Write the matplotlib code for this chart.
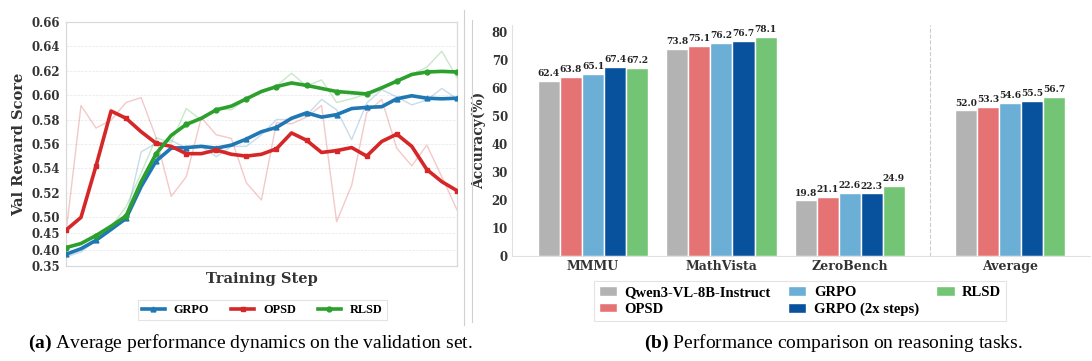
import numpy as np
import matplotlib
matplotlib.use("Agg")
import matplotlib.pyplot as plt
from matplotlib.lines import Line2D

plt.rcParams["mathtext.fontset"] = "custom"
plt.rcParams["mathtext.rm"] = "Liberation Serif"
plt.rcParams["mathtext.bf"] = "Liberation Serif:bold"

# ---- data: (a) validation reward curves ----
steps = list(range(27))
grpo_raw = [0.378, 0.393, 0.429, 0.460, 0.4975, 0.5535, 0.5605, 0.563, 0.5565, 0.558, 0.5495,
            0.558, 0.558, 0.5675, 0.580, 0.580, 0.5835, 0.5965, 0.588, 0.5635, 0.5935, 0.6045,
            0.5985, 0.592, 0.596, 0.6055, 0.597]
grpo_smooth = [0.386, 0.403, 0.429, 0.462, 0.496, 0.525, 0.546, 0.5565, 0.557, 0.558, 0.5565,
               0.559, 0.564, 0.570, 0.5735, 0.581, 0.5855, 0.582, 0.584, 0.589, 0.590, 0.5905,
               0.597, 0.5995, 0.5975, 0.597, 0.5975]
opsd_raw = [0.450, 0.5915, 0.573, 0.5795, 0.594, 0.598, 0.565, 0.517, 0.533, 0.5815, 0.5675,
            0.5645, 0.528, 0.514, 0.5775, 0.5765, 0.582, 0.5915, 0.4856, 0.526, 0.5855, 0.5965,
            0.5565, 0.542, 0.559, 0.533, 0.506]
opsd_smooth = [0.460, 0.499, 0.542, 0.587, 0.581, 0.570, 0.5605, 0.558, 0.552, 0.552, 0.555,
               0.5515, 0.550, 0.5515, 0.556, 0.569, 0.563, 0.553, 0.5545, 0.557, 0.550, 0.562,
               0.568, 0.558, 0.539, 0.529, 0.5217]
rlsd_raw = [0.403, 0.419, 0.444, 0.470, 0.5085, 0.536, 0.565, 0.561, 0.589, 0.5795, 0.589,
            0.588, 0.597, 0.604, 0.6075, 0.618, 0.6075, 0.6125, 0.594, 0.597, 0.601, 0.606,
            0.612, 0.617, 0.623, 0.636, 0.6145]
rlsd_smooth = [0.4065, 0.419, 0.4435, 0.472, 0.501, 0.529, 0.552, 0.567, 0.576, 0.581, 0.588,
               0.591, 0.597, 0.603, 0.607, 0.610, 0.608, 0.6055, 0.603, 0.602, 0.601, 0.606,
               0.6115, 0.617, 0.619, 0.6195, 0.619]
reward_ticks = [0.35, 0.40, 0.45, 0.50, 0.52, 0.54, 0.56, 0.58, 0.60, 0.62, 0.64, 0.66]

# ---- data: (b) benchmark accuracy ----
benchmarks = ["MMMU", "MathVista", "ZeroBench", "Average"]
methods = ["Qwen3-VL-8B-Instruct", "OPSD", "GRPO", "GRPO (2x steps)", "RLSD"]
acc_base = [62.4, 73.8, 19.8, 52.0]
acc_opsd = [63.8, 75.1, 21.1, 53.3]
acc_grpo = [65.1, 76.2, 22.6, 54.6]
acc_grpo2x = [67.4, 76.7, 22.3, 55.5]
acc_rlsd = [67.2, 78.1, 24.9, 56.7]

SERIF = ["DejaVu Serif"]
TIMES = ["Liberation Serif"]

fig = plt.figure(figsize=(10.92, 3.61), dpi=100)

# ================= (a) =================
ax1 = fig.add_axes([0.0604, 0.263, 0.358, 0.676])

K = 0.268  # compression below 0.5


def fwd(v):
    v = np.asarray(v, dtype=float)
    return np.where(v >= 0.5, v, 0.5 - (0.5 - v) * K)


def inv(u):
    u = np.asarray(u, dtype=float)
    return np.where(u >= 0.5, u, 0.5 - (0.5 - u) / K)


ax1.set_yscale("function", functions=(fwd, inv))

curves = [
    ("GRPO", grpo_raw, grpo_smooth, "#1f77b4", "^"),
    ("OPSD", opsd_raw, opsd_smooth, "#d62728", "s"),
    ("RLSD", rlsd_raw, rlsd_smooth, "#2ca02c", "o"),
]
for name, raw, sm, c, m in curves:
    ax1.plot(steps, raw, color=c, lw=1.0, alpha=0.25, zorder=2)
for name, raw, sm, c, m in curves:
    ax1.plot(steps, sm, color=c, lw=2.6, marker=m, markersize=3.5, markevery=2,
             label=name, zorder=3)

ax1.set_xlim(0, 26)
ax1.set_ylim(0.35, 0.66)
ax1.set_yticks(reward_ticks)
ax1.set_yticklabels([f"{t:.2f}" for t in reward_ticks], fontfamily=SERIF,
                    fontweight="bold", fontsize=8.5, color="#333333")
ax1.set_xticks([])
ax1.yaxis.set_minor_locator(matplotlib.ticker.NullLocator())
ax1.tick_params(axis="y", length=0, pad=4)
ax1.grid(axis="y", ls="--", lw=0.5, color="#e6e6e6")
ax1.set_axisbelow(True)
for s in ax1.spines.values():
    s.set_color("#d9d9d9")
    s.set_linewidth(0.9)
ax1.set_ylabel("Val Reward Score", fontfamily=SERIF, fontweight="bold",
               fontsize=10.5, color="#333333", labelpad=4)
ax1.set_xlabel("Training Step", fontfamily=SERIF, fontweight="bold",
               fontsize=10.5, color="#333333", labelpad=4)

leg1 = fig.legend(*ax1.get_legend_handles_labels(), loc="center",
                  bbox_to_anchor=(0.240, 0.141), ncol=3, frameon=True, fancybox=False,
                  prop={"family": TIMES, "weight": "bold", "size": 8.8},
                  handlelength=1.9, columnspacing=1.8, handletextpad=0.7,
                  borderpad=0.35, borderaxespad=0.2, edgecolor="#dddddd")
leg1.get_frame().set_linewidth(0.8)

# ================= (b) =================
ax2 = fig.add_axes([0.469, 0.291, 0.529, 0.640])
xpos = np.array([0, 1, 2, 3.25])
colors = ["#b3b3b3", "#e57373", "#6baed6", "#08519c", "#74c476"]
series = [acc_base, acc_opsd, acc_grpo, acc_grpo2x, acc_rlsd]
w = 0.172
for i, (vals, c, lab) in enumerate(zip(series, colors, methods)):
    xs = xpos + (i - 2) * w
    ax2.bar(xs, vals, width=w, color=c, edgecolor="white", linewidth=1.0, label=lab, zorder=2)
    for x, v in zip(xs, vals):
        ax2.text(x, v + 1.0, f"{v:.1f}", ha="center", va="bottom", fontfamily=SERIF,
                 fontweight="bold", fontsize=6.5, color="#222222")

ax2.axvline(2.625, color="#cccccc", lw=0.8, ls="--", zorder=1)
ax2.set_xlim(-0.63, 3.87)
ax2.set_ylim(0, 82.5)
ax2.set_yticks(range(0, 81, 10))
ax2.set_yticklabels([str(t) for t in range(0, 81, 10)], fontfamily=SERIF,
                    fontweight="bold", fontsize=8.5, color="#333333")
ax2.set_xticks(xpos)
ax2.set_xticklabels(benchmarks, fontfamily=SERIF, fontweight="bold", fontsize=9,
                    color="#333333")
ax2.tick_params(length=0, pad=3)
ax2.spines["top"].set_visible(False)
ax2.spines["right"].set_visible(False)
ax2.spines["left"].set_color("#e0e0e0")
ax2.spines["bottom"].set_color("#e0e0e0")
ax2.set_ylabel("Accuracy(%)", fontfamily=SERIF, fontweight="bold", fontsize=10,
               color="#333333", labelpad=4)

leg2 = fig.legend(*ax2.get_legend_handles_labels(), loc="center",
                  bbox_to_anchor=(0.7326, 0.166), ncol=3, frameon=True, fancybox=False,
                  prop={"family": TIMES, "weight": "bold", "size": 10.5},
                  handlelength=1.25, handleheight=0.65, columnspacing=1.2,
                  handletextpad=0.5, borderpad=0.35, labelspacing=0.25, edgecolor="#dddddd")
leg2.get_frame().set_linewidth(0.8)

# separators between subfigures
fig.add_artist(Line2D([464 / 1092] * 2, [1 - 10 / 361, 1 - 325 / 361],
                      color="#d0d0d0", lw=0.8))
fig.add_artist(Line2D([472 / 1092] * 2, [1 - 20 / 361, 1 - 322 / 361],
                      color="#d0d0d0", lw=0.8))

# captions
fig.text(0.229, 0.05, r"$\bf{(a)}$ Average performance dynamics on the validation set.",
         ha="center", va="center", fontfamily=TIMES, fontsize=14)
fig.text(0.763, 0.05, r"$\bf{(b)}$ Performance comparison on reasoning tasks.",
         ha="center", va="center", fontfamily=TIMES, fontsize=14)

fig.savefig("out.png", dpi=100)
